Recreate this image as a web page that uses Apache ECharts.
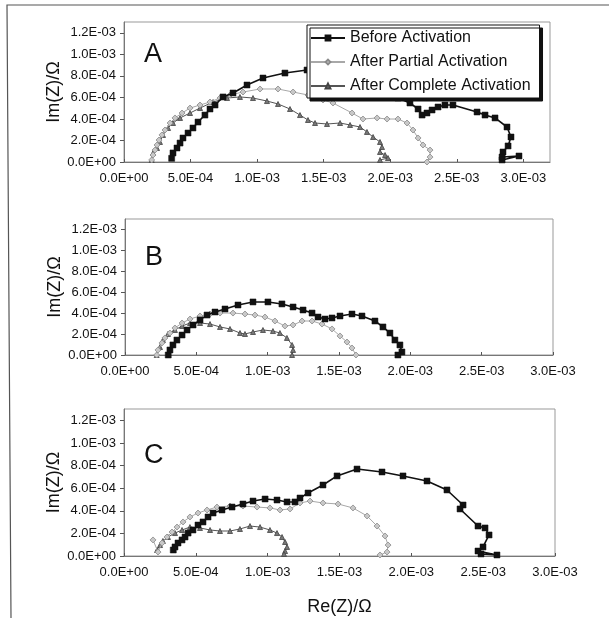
<!DOCTYPE html>
<html>
<head>
<meta charset="utf-8">
<script src="https://cdn.jsdelivr.net/npm/echarts@6/dist/echarts.min.js"></script>
<style>
  html, body { margin: 0; padding: 0; background: #fff; }
  #chart { width: 609px; height: 622px; }
</style>
</head>
<body>
<div id="chart"></div>
<script>
// Nyquist plots, Re(Z) vs Im(Z) in ohm, three cells (A, B, C)
const seriesNames = ['Before Activation', 'After Partial Activation', 'After Complete Activation'];
const panelLetters = ['A', 'B', 'C'];
const xMaxByPanel = [3.2e-3, 3.0e-3, 3.0e-3];

// Panel A
const beforeA = [
  [3.58e-4, 3.4e-5], [3.68e-4, 8.4e-5], [3.98e-4, 1.30e-4], [4.21e-4, 1.76e-4], [4.43e-4, 2.23e-4],
  [4.81e-4, 2.69e-4], [5.18e-4, 3.16e-4], [5.56e-4, 3.71e-4], [6.08e-4, 4.36e-4], [6.46e-4, 4.92e-4],
  [6.84e-4, 5.29e-4], [7.44e-4, 6.04e-4], [8.19e-4, 6.41e-4], [9.24e-4, 7.15e-4], [1.044e-3, 7.80e-4],
  [1.209e-3, 8.26e-4], [1.375e-3, 8.54e-4], [1.547e-3, 8.82e-4], [1.773e-3, 8.08e-4], [1.96e-3, 6.87e-4],
  [2.058e-3, 5.94e-4], [2.148e-3, 5.48e-4], [2.209e-3, 4.92e-4], [2.239e-3, 4.36e-4], [2.276e-3, 4.55e-4],
  [2.314e-3, 4.83e-4], [2.359e-3, 5.11e-4], [2.411e-3, 5.29e-4], [2.471e-3, 5.29e-4], [2.652e-3, 4.64e-4],
  [2.712e-3, 4.36e-4], [2.787e-3, 4.09e-4], [2.877e-3, 3.25e-4], [2.907e-3, 2.32e-4], [2.885e-3, 1.49e-4],
  [2.847e-3, 9.3e-5], [2.840e-3, 4.6e-5], [2.967e-3, 5.6e-5], [2.840e-3, 1.9e-5]
];
const partialA = [
  [2.08e-4, 1.9e-5], [2.18e-4, 6.5e-5], [2.33e-4, 1.11e-4], [2.48e-4, 1.58e-4], [2.63e-4, 2.04e-4],
  [2.85e-4, 2.51e-4], [3.08e-4, 2.97e-4], [3.46e-4, 3.62e-4], [3.83e-4, 4.09e-4], [4.36e-4, 4.55e-4],
  [4.96e-4, 5.01e-4], [5.71e-4, 5.29e-4], [6.46e-4, 5.57e-4], [7.21e-4, 5.94e-4], [7.96e-4, 6.22e-4],
  [8.94e-4, 6.50e-4], [1.022e-3, 6.78e-4], [1.157e-3, 6.78e-4], [1.270e-3, 6.50e-4], [1.382e-3, 6.22e-4],
  [1.495e-3, 5.76e-4], [1.570e-3, 5.48e-4], [1.713e-3, 4.55e-4], [1.795e-3, 3.99e-4], [1.901e-3, 4.09e-4],
  [1.976e-3, 3.99e-4], [2.058e-3, 3.99e-4], [2.126e-3, 3.62e-4], [2.171e-3, 2.97e-4], [2.209e-3, 2.23e-4],
  [2.246e-3, 1.58e-4], [2.299e-3, 1.11e-4], [2.299e-3, 4.6e-5], [2.276e-3, 0]
];
const completeA = [
  [2.08e-4, 1.9e-5], [2.18e-4, 8.4e-5], [2.48e-4, 1.30e-4], [2.70e-4, 1.86e-4], [2.93e-4, 2.51e-4],
  [3.31e-4, 3.16e-4], [3.68e-4, 3.62e-4], [4.21e-4, 4.09e-4], [4.96e-4, 4.55e-4], [5.71e-4, 5.01e-4],
  [6.69e-4, 5.57e-4], [7.74e-4, 5.94e-4], [8.71e-4, 6.04e-4], [9.69e-4, 5.94e-4], [1.074e-3, 5.66e-4],
  [1.157e-3, 5.39e-4], [1.247e-3, 4.92e-4], [1.322e-3, 4.36e-4], [1.382e-3, 3.90e-4], [1.435e-3, 3.62e-4],
  [1.525e-3, 3.53e-4], [1.623e-3, 3.62e-4], [1.698e-3, 3.44e-4], [1.773e-3, 3.25e-4], [1.825e-3, 2.79e-4],
  [1.871e-3, 2.32e-4], [1.923e-3, 1.86e-4], [1.938e-3, 1.39e-4], [1.923e-3, 9.3e-5], [1.961e-3, 6.5e-5],
  [1.983e-3, 3.7e-5], [1.923e-3, 1.9e-5]
];

// Panel B
const beforeB = [
  [3.03e-4, 0], [3.15e-4, 4.8e-5], [3.36e-4, 9.6e-5], [3.64e-4, 1.43e-4], [4.00e-4, 1.91e-4],
  [4.35e-4, 2.39e-4], [4.77e-4, 2.87e-4], [5.26e-4, 3.35e-4], [5.75e-4, 3.82e-4], [6.31e-4, 4.11e-4],
  [7.01e-4, 4.40e-4], [7.92e-4, 4.78e-4], [8.97e-4, 5.07e-4], [1.002e-3, 5.07e-4], [1.100e-3, 4.88e-4],
  [1.178e-3, 4.59e-4], [1.248e-3, 4.30e-4], [1.311e-3, 4.01e-4], [1.353e-3, 3.63e-4], [1.402e-3, 3.44e-4],
  [1.451e-3, 3.54e-4], [1.507e-3, 3.73e-4], [1.591e-3, 3.92e-4], [1.661e-3, 3.73e-4], [1.752e-3, 3.25e-4],
  [1.808e-3, 2.68e-4], [1.857e-3, 2.10e-4], [1.892e-3, 1.43e-4], [1.927e-3, 9.6e-5], [1.941e-3, 2.9e-5],
  [1.913e-3, 0]
];
const partialB = [
  [2.22e-4, 0], [2.31e-4, 4.8e-5], [2.59e-4, 1.15e-4], [2.80e-4, 1.63e-4], [3.15e-4, 2.10e-4],
  [3.50e-4, 2.58e-4], [4.00e-4, 3.06e-4], [4.56e-4, 3.44e-4], [5.26e-4, 3.73e-4], [5.96e-4, 3.92e-4],
  [6.66e-4, 4.01e-4], [7.57e-4, 4.01e-4], [8.41e-4, 3.92e-4], [9.11e-4, 3.82e-4], [9.81e-4, 3.63e-4],
  [1.051e-3, 3.25e-4], [1.121e-3, 2.77e-4], [1.178e-3, 2.87e-4], [1.241e-3, 3.25e-4], [1.311e-3, 3.25e-4],
  [1.381e-3, 2.96e-4], [1.451e-3, 2.49e-4], [1.507e-3, 1.82e-4], [1.556e-3, 1.24e-4], [1.591e-3, 6.7e-5],
  [1.619e-3, 0]
];
const completeB = [
  [2.22e-4, 0], [2.45e-4, 7.6e-5], [2.66e-4, 1.43e-4], [3.01e-4, 2.01e-4], [3.50e-4, 2.39e-4],
  [4.00e-4, 2.77e-4], [4.56e-4, 3.06e-4], [5.26e-4, 3.06e-4], [5.96e-4, 2.96e-4], [6.66e-4, 2.68e-4],
  [7.36e-4, 2.49e-4], [8.06e-4, 2.10e-4], [8.41e-4, 2.01e-4], [8.97e-4, 2.20e-4], [9.67e-4, 2.39e-4],
  [1.037e-3, 2.29e-4], [1.086e-3, 2.10e-4], [1.135e-3, 1.63e-4], [1.171e-3, 9.6e-5], [1.178e-3, 4.8e-5],
  [1.171e-3, 0]
];

// Panel C
const beforeC = [
  [3.43e-4, 5.3e-5], [3.55e-4, 8.0e-5], [3.76e-4, 1.15e-4], [4.04e-4, 1.42e-4], [4.25e-4, 1.68e-4],
  [4.46e-4, 2.03e-4], [4.80e-4, 2.30e-4], [5.15e-4, 2.74e-4], [5.50e-4, 3.01e-4], [5.85e-4, 3.45e-4],
  [6.20e-4, 3.80e-4], [6.82e-4, 4.07e-4], [7.52e-4, 4.33e-4], [8.28e-4, 4.60e-4], [8.98e-4, 4.86e-4],
  [9.82e-4, 5.04e-4], [1.065e-3, 4.95e-4], [1.135e-3, 4.78e-4], [1.190e-3, 4.78e-4], [1.225e-3, 5.13e-4],
  [1.281e-3, 5.57e-4], [1.385e-3, 6.28e-4], [1.483e-3, 7.08e-4], [1.622e-3, 7.69e-4], [1.796e-3, 7.43e-4],
  [1.942e-3, 7.08e-4], [2.109e-3, 6.63e-4], [2.248e-3, 5.84e-4], [2.360e-3, 4.51e-4], [2.339e-3, 4.16e-4],
  [2.464e-3, 2.65e-4], [2.513e-3, 2.48e-4], [2.541e-3, 1.86e-4], [2.499e-3, 8.0e-5], [2.464e-3, 4.4e-5],
  [2.596e-3, 9e-6], [2.485e-3, 1.8e-5]
];
const partialC = [
  [2.02e-4, 1.42e-4], [2.37e-4, 3.5e-5], [2.65e-4, 1.15e-4], [2.99e-4, 1.68e-4], [3.34e-4, 2.12e-4],
  [3.69e-4, 2.56e-4], [4.11e-4, 3.01e-4], [4.59e-4, 3.45e-4], [5.15e-4, 3.80e-4], [5.78e-4, 4.07e-4],
  [6.47e-4, 4.33e-4], [7.38e-4, 4.42e-4], [8.28e-4, 4.42e-4], [9.26e-4, 4.33e-4], [1.016e-3, 4.25e-4],
  [1.086e-3, 4.07e-4], [1.156e-3, 4.16e-4], [1.225e-3, 4.69e-4], [1.295e-3, 4.86e-4], [1.385e-3, 4.69e-4],
  [1.490e-3, 4.60e-4], [1.594e-3, 4.25e-4], [1.692e-3, 3.54e-4], [1.761e-3, 2.65e-4], [1.817e-3, 1.77e-4],
  [1.838e-3, 9.7e-5], [1.831e-3, 3.5e-5], [1.782e-3, 9e-6]
];
const completeC = [
  [2.30e-4, 5.3e-5], [2.51e-4, 9.7e-5], [2.71e-4, 1.33e-4], [3.06e-4, 1.68e-4], [3.55e-4, 2.03e-4],
  [4.04e-4, 2.30e-4], [4.59e-4, 2.56e-4], [5.29e-4, 2.48e-4], [5.99e-4, 2.30e-4], [6.68e-4, 2.21e-4],
  [7.38e-4, 2.21e-4], [8.07e-4, 2.39e-4], [8.77e-4, 2.65e-4], [9.47e-4, 2.56e-4], [1.016e-3, 2.30e-4],
  [1.065e-3, 2.03e-4], [1.100e-3, 1.68e-4], [1.121e-3, 1.24e-4], [1.135e-3, 8.0e-5], [1.121e-3, 4.4e-5],
  [1.114e-3, 1.8e-5]
];

const panelData = [
  [beforeA, partialA, completeA],
  [beforeB, partialB, completeB],
  [beforeC, partialC, completeC]
];

// plot boxes of the three panels (pixels)
const grids = [
  { left: 124, top: 22, width: 426, height: 140 },
  { left: 125, top: 219, width: 428, height: 136 },
  { left: 124, top: 409, width: 431, height: 147 }
];

const FONT = '"Liberation Sans", Arial, sans-serif';

// 1.2E-03 style labels
function sci(v) {
  if (Math.abs(v) < 1e-12) return '0.0E+00';
  const parts = v.toExponential(1).split('e');
  const exp = parseInt(parts[1], 10);
  const sign = exp < 0 ? '-' : '+';
  const d = Math.abs(exp);
  return parts[0] + 'E' + sign + (d < 10 ? '0' + d : String(d));
}

const seriesStyles = [
  { symbol: 'rect', symbolSize: 6, line: { color: '#111', width: 1.6 }, item: { color: '#111', borderColor: '#111', borderWidth: 0.5 } },
  { symbol: 'diamond', symbolSize: 6, line: { color: '#a8a8a8', width: 1 }, item: { color: '#c8c8c8', borderColor: '#8a8a8a', borderWidth: 0.8 } },
  { symbol: 'triangle', symbolSize: 5, line: { color: '#555', width: 1 }, item: { color: '#777', borderColor: '#444', borderWidth: 0.8 } }
];

const xAxes = [], yAxes = [], series = [], graphics = [];
grids.forEach((g, i) => {
  xAxes.push({
    type: 'value', gridIndex: i, min: 0, max: xMaxByPanel[i], interval: 5e-4,
    splitLine: { show: false },
    axisLine: { lineStyle: { color: '#777', width: 1 } },
    axisTick: { inside: true, length: 3, lineStyle: { color: '#555' } },
    axisLabel: { formatter: sci, showMaxLabel: xMaxByPanel[i] <= 3.0e-3, margin: 10, fontFamily: FONT, fontSize: 13, color: '#111' },
    name: i === 2 ? 'Re(Z)/\u03A9' : '',
    nameLocation: 'middle', nameGap: 42, nameMoveOverlap: false,
    nameTextStyle: { fontFamily: FONT, fontSize: 18, color: '#111' }
  });
  yAxes.push({
    type: 'value', gridIndex: i, min: 0, max: 1.3e-3, interval: 2e-4,
    splitLine: { show: false },
    axisLine: { lineStyle: { color: '#777', width: 1 } },
    axisTick: { inside: false, length: 4, lineStyle: { color: '#555' } },
    axisLabel: { formatter: sci, showMaxLabel: false, margin: 8, fontFamily: FONT, fontSize: 13, color: '#111' },
    name: 'Im(Z)/\u03A9', nameLocation: 'middle', nameGap: 61, nameRotate: 90, nameMoveOverlap: false,
    nameTextStyle: { fontFamily: FONT, fontSize: 18, color: '#111' }
  });
  panelData[i].forEach((data, k) => {
    const st = seriesStyles[k];
    series.push({
      type: 'line', name: seriesNames[k], xAxisIndex: i, yAxisIndex: i,
      data: data, symbol: st.symbol, symbolSize: st.symbolSize, showSymbol: true,
      lineStyle: st.line, itemStyle: st.item, animation: false, z: 3 - k
    });
  });
  graphics.push({
    type: 'text', left: g.left + 20, top: g.top + [19, 25, 33][i],
    style: { text: panelLetters[i], font: '27px ' + FONT, fill: '#111' }
  });
});

// frame around the figure
graphics.push({ type: 'polyline', shape: { points: [[609, 5], [7, 5], [11, 618]] }, style: { stroke: '#555', lineWidth: 1.2, fill: null } });

const chart = echarts.init(document.getElementById('chart'), null, { renderer: 'canvas' });
chart.setOption({
  backgroundColor: '#fff',
  animation: false,
  grid: grids.map(g => Object.assign({ show: true, borderColor: '#999', borderWidth: 1, backgroundColor: 'transparent' }, g)),
  xAxis: xAxes,
  yAxis: yAxes,
  legend: {
    data: seriesNames, orient: 'vertical', left: 307, top: 25,
    padding: [5, 9, 4, 3], itemGap: 8, itemWidth: 34, itemHeight: 6,
    backgroundColor: '#fff', borderColor: '#111', borderWidth: 1,
    shadowColor: '#111', shadowOffsetX: 3, shadowOffsetY: 3, shadowBlur: 0.01,
    textStyle: { fontFamily: FONT, fontSize: 16, lineHeight: 14, color: '#111' }
  },
  graphic: graphics,
  series: series
});
</script>
</body>
</html>
